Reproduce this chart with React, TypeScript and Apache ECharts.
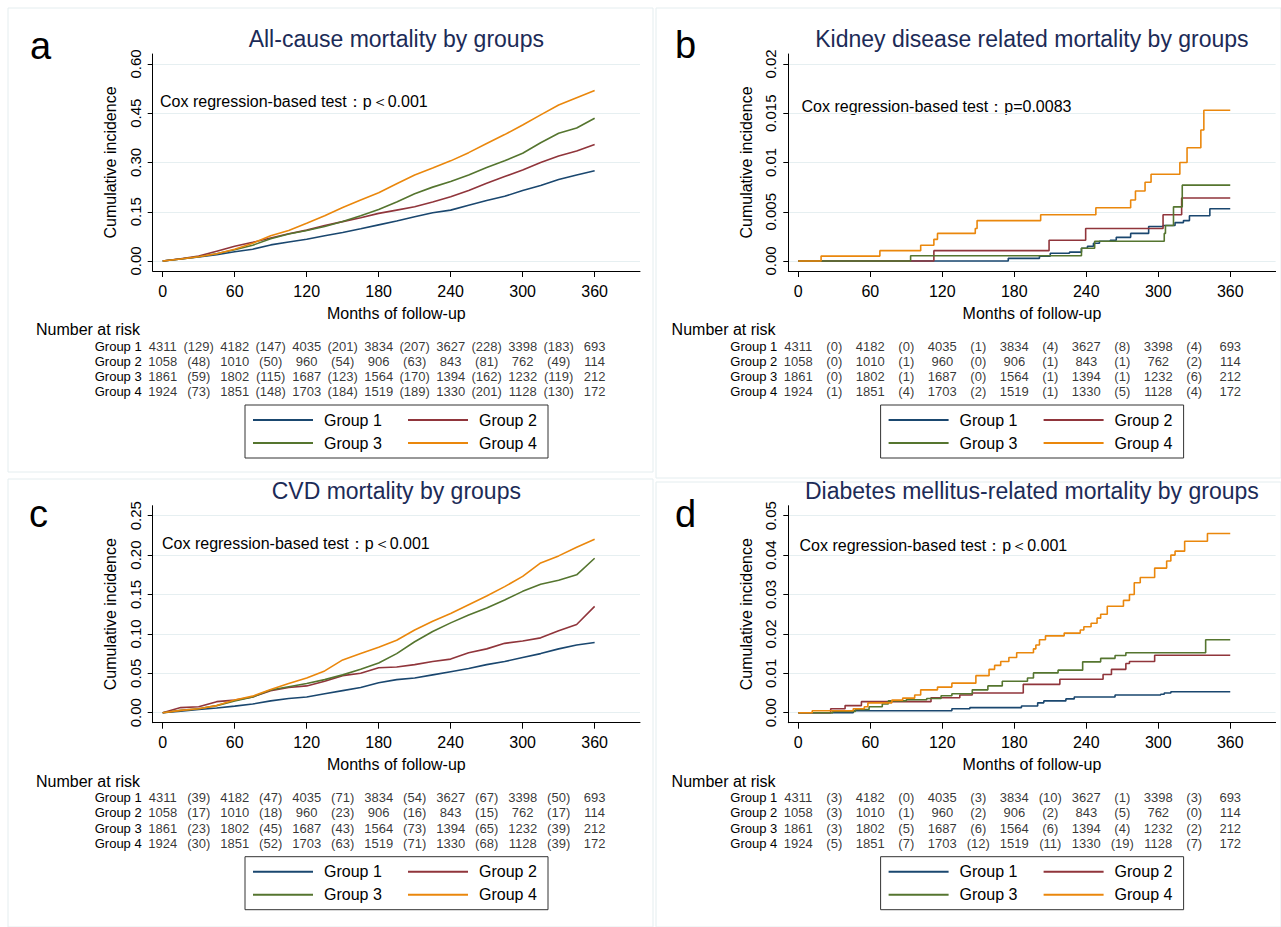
import React, { useEffect, useRef } from 'react';
import * as echarts from 'echarts';

const FONT = '"Liberation Sans", Arial, Helvetica, sans-serif';
const GROUPS = ['Group 1', 'Group 2', 'Group 3', 'Group 4'];
const COLORS = ['#1a476f', '#90353b', '#55752f', '#ea870c'];
const X_TICKS = [0, 60, 120, 180, 240, 300, 360];
const RISK_MONTHS = [0, 60, 120, 180, 240, 300, 360];
const EVENT_MONTHS = [30, 90, 150, 210, 270, 330];

const AT_RISK = [
  [4311, 4182, 4035, 3834, 3627, 3398, 693],
  [1058, 1010, 960, 906, 843, 762, 114],
  [1861, 1802, 1687, 1564, 1394, 1232, 212],
  [1924, 1851, 1703, 1519, 1330, 1128, 172],
];
const EVENTS_A = [[129, 147, 201, 207, 228, 183], [48, 50, 54, 63, 81, 49], [59, 115, 123, 170, 162, 119], [73, 148, 184, 189, 201, 130]];
const EVENTS_B = [[0, 0, 1, 4, 8, 4], [0, 1, 0, 1, 1, 2], [0, 1, 0, 1, 1, 6], [1, 4, 2, 1, 5, 4]];
const EVENTS_C = [[39, 47, 71, 54, 67, 50], [17, 18, 23, 16, 15, 17], [23, 45, 43, 73, 65, 39], [30, 52, 63, 71, 68, 39]];
const EVENTS_D = [[3, 0, 3, 10, 1, 3], [3, 1, 2, 2, 5, 0], [3, 5, 6, 6, 4, 2], [5, 7, 12, 11, 19, 7]];

// Panels a and c: sampled every 15 months
const MONTHS_AC = [0, 15, 30, 45, 60, 75, 90, 105, 120, 135, 150, 165, 180, 195, 210, 225, 240, 255, 270, 285, 300, 315, 330, 345, 360];
const A_G1 = [0, .006, .012, .019, .028, .036, .049, .058, .066, .077, .087, .098, .110, .122, .135, .147, .155, .170, .184, .197, .215, .230, .248, .262, .275];
const A_G2 = [0, .007, .015, .030, .045, .057, .070, .083, .094, .108, .120, .132, .145, .155, .165, .180, .196, .215, .237, .257, .277, .300, .320, .335, .355];
const A_G3 = [0, .006, .013, .022, .034, .048, .068, .082, .093, .105, .120, .138, .157, .180, .205, .225, .242, .262, .285, .305, .328, .360, .389, .405, .435];
const A_G4 = [0, .006, .013, .022, .036, .054, .077, .093, .115, .138, .163, .186, .208, .235, .262, .283, .305, .330, .358, .385, .414, .445, .475, .497, .519];

const C_G1 = [0, .002, .004, .006, .0084, .011, .015, .018, .020, .024, .028, .032, .038, .042, .044, .048, .052, .056, .061, .065, .070, .075, .081, .086, .089];
const C_G2 = [0, .0065, .0075, .014, .016, .020, .028, .032, .034, .040, .047, .050, .057, .058, .061, .065, .068, .076, .081, .088, .091, .095, .104, .112, .135];
const C_G3 = [0, .003, .005, .009, .0148, .020, .0287, .033, .037, .042, .048, .055, .063, .075, .090, .103, .114, .124, .133, .143, .154, .163, .168, .175, .196];
const C_G4 = [0, .003, .005, .009, .016, .021, .0295, .037, .044, .053, .067, .075, .083, .092, .105, .116, .126, .137, .148, .160, .173, .190, .199, .210, .220];

// Panels b and d: step functions [month, value]
const B_G1 = [[0, 0], [175, 0.00027], [201, 0.0005], [210, 0.00078], [226, 0.0009], [236, 0.0013], [241, 0.0015], [246, 0.0018], [251, 0.002], [260, 0.0021], [265, 0.0024], [277, 0.0028], [292, 0.0035], [304, 0.0036], [314, 0.0039], [321, 0.0041], [326, 0.0046], [343, 0.0053], [360, 0.0053]];
const B_G2 = [[0, 0], [113, 0.00105], [209, 0.0021], [239.5, 0.0033], [304, 0.0047], [319.5, 0.0064], [360, 0.0064]];
const B_G3 = [[0, 0], [93.6, 0.00054], [236, 0.0013], [247, 0.002], [305, 0.0028], [306, 0.0036], [312.7, 0.0055], [320, 0.0077], [360, 0.0077]];
const B_G4 = [[0, 0], [19, 0.0005], [68, 0.00105], [102, 0.0016], [113, 0.0022], [116, 0.0028], [147.5, 0.0033], [149, 0.0041], [202, 0.0047], [248, 0.0054], [277, 0.0062], [281, 0.0071], [289, 0.008], [294, 0.0088], [318, 0.010], [324, 0.0115], [335.5, 0.0133], [338, 0.0153], [360, 0.0153]];

const D_G1 = [[0, 0], [45.8, 0.0005], [128, 0.001], [143, 0.0013], [186, 0.0017], [199.5, 0.0025], [204.6, 0.003], [223, 0.0035], [230, 0.004], [264, 0.0045], [302, 0.0047], [305, 0.005], [310.5, 0.0053], [360, 0.0053]];
const D_G2 = [[0, 0], [27, 0.001], [39, 0.0018], [52.6, 0.0028], [110.6, 0.0038], [134.6, 0.0045], [145, 0.005], [187.5, 0.0072], [218, 0.0085], [254, 0.0097], [261, 0.011], [273, 0.0125], [276, 0.013], [297, 0.0146], [360, 0.0146]];
const D_G3 = [[0, 0], [28.7, 0.0003], [47.5, 0.0008], [59, 0.0015], [70, 0.0022], [75, 0.003], [90, 0.0033], [107, 0.0036], [119, 0.0043], [128, 0.0048], [145, 0.0058], [158, 0.0068], [170, 0.008], [191, 0.0088], [196, 0.0101], [216.5, 0.0108], [237, 0.0129], [252, 0.0138], [264, 0.0145], [273, 0.0152], [339.5, 0.0185], [360, 0.0185]];
const D_G4 = [[0, 0], [11.6, 0.0005], [45.8, 0.001], [55, 0.0015], [58, 0.0025], [78, 0.0032], [87, 0.0037], [97, 0.0045], [102, 0.0058], [116, 0.0065], [128, 0.0075], [148, 0.0094], [159, 0.011], [163.6, 0.012], [168.7, 0.013], [175.5, 0.014], [182, 0.0152], [196, 0.0162], [198, 0.0172], [201, 0.0185], [206, 0.0195], [221.6, 0.0202], [235, 0.021], [238, 0.0218], [244, 0.0227], [249, 0.024], [252, 0.025], [257.5, 0.027], [271, 0.0285], [276, 0.030], [280, 0.033], [285, 0.0343], [297, 0.0367], [307, 0.0385], [310.5, 0.040], [314, 0.041], [322, 0.0435], [341, 0.0455], [360, 0.0455]];

const Y_TICKS_A = [0, 0.15, 0.3, 0.45, 0.6];
const Y_LABELS_A = ['0.00', '0.15', '0.30', '0.45', '0.60'];
const Y_TICKS_B = [0, 0.005, 0.01, 0.015, 0.02];
const Y_LABELS_B = ['0.00', '0.005', '0.01', '0.015', '0.02'];
const Y_TICKS_C = [0, 0.05, 0.1, 0.15, 0.2, 0.25];
const Y_LABELS_C = ['0.00', '0.05', '0.10', '0.15', '0.20', '0.25'];
const Y_TICKS_D = [0, 0.01, 0.02, 0.03, 0.04, 0.05];
const Y_LABELS_D = ['0.00', '0.01', '0.02', '0.03', '0.04', '0.05'];

const zipAC = (vals: number[]) => MONTHS_AC.map((m, i) => [m, vals[i]]);

const PANELS = [
  { letter: 'a', title: 'All-cause mortality by groups', cox: 'Cox regression-based test：p＜0.001', ox: 0, oy: 0, letterXY: [30, 45.5], coxXY: [160, 101], yTicks: Y_TICKS_A, yLabels: Y_LABELS_A, step: false, curves: [zipAC(A_G1), zipAC(A_G2), zipAC(A_G3), zipAC(A_G4)], events: EVENTS_A },
  { letter: 'b', title: 'Kidney disease related mortality by groups', cox: 'Cox regression-based test：p=0.0083', ox: 635.6, oy: 0, letterXY: [675, 44.5], coxXY: [801.5, 106], yTicks: Y_TICKS_B, yLabels: Y_LABELS_B, step: true, curves: [B_G1, B_G2, B_G3, B_G4], events: EVENTS_B },
  { letter: 'c', title: 'CVD mortality by groups', cox: 'Cox regression-based test：p＜0.001', ox: 0, oy: 451.7, letterXY: [29, 513.5], coxXY: [162, 543.3], yTicks: Y_TICKS_C, yLabels: Y_LABELS_C, step: false, curves: [zipAC(C_G1), zipAC(C_G2), zipAC(C_G3), zipAC(C_G4)], events: EVENTS_C },
  { letter: 'd', title: 'Diabetes mellitus-related mortality by groups', cox: 'Cox regression-based test：p＜0.001', ox: 635.6, oy: 451.7, letterXY: [675, 513.5], coxXY: [799.5, 545], yTicks: Y_TICKS_D, yLabels: Y_LABELS_D, step: true, curves: [D_G1, D_G2, D_G3, D_G4], events: EVENTS_D },
];

const GRID_LEFT = 152.7, GRID_RIGHT = 640, GRID_TOP = 54, GRID_BOTTOM = 271;
const X_MIN = -8.33, X_MAX = 397.8;
const TABLE_TOP = 338.4, TABLE_H = 60.8;
const FRAMES = [[8, 8, 645, 464], [656, 8, 625, 470], [8, 479, 645, 448], [656, 482, 625, 445]];

function txt(text: string, x: number, y: number, size: number, color = '#000', align = 'left') {
  return {
    type: 'text', x, y, silent: true,
    style: { text, fontSize: size, fontFamily: FONT, fill: color, align, textAlign: align, verticalAlign: 'middle', textVerticalAlign: 'middle' },
  };
}

function buildOption() {
  const grid: any[] = [], xAxis: any[] = [], yAxis: any[] = [], series: any[] = [], legend: any[] = [], graphic: any[] = [];
  FRAMES.forEach(f => graphic.push({ type: 'rect', silent: true, shape: { x: f[0], y: f[1], width: f[2], height: f[3] }, style: { fill: 'none', stroke: '#e4edef', lineWidth: 1 } }));
  PANELS.forEach((p, i) => {
    const { ox, oy } = p;
    const yMax = p.yTicks[p.yTicks.length - 1];
    const pad = yMax * 10 / 197;
    grid.push({ left: GRID_LEFT + ox, top: GRID_TOP + oy, width: GRID_RIGHT - GRID_LEFT, height: GRID_BOTTOM - GRID_TOP });
    grid.push({ left: GRID_LEFT + ox, top: TABLE_TOP + oy, width: GRID_RIGHT - GRID_LEFT, height: TABLE_H });
    xAxis.push({
      type: 'value', gridIndex: 2 * i, min: X_MIN, max: X_MAX,
      axisLine: { show: true, onZero: false, lineStyle: { color: '#000', width: 1 } },
      axisTick: { show: true, customValues: X_TICKS, length: 6, lineStyle: { color: '#000' } },
      axisLabel: { customValues: X_TICKS, fontSize: 16, color: '#000', margin: 12, fontFamily: FONT },
      splitLine: { show: false },
      name: 'Months of follow-up', nameLocation: 'middle', nameGap: 34,
      nameTextStyle: { fontSize: 16, color: '#000', fontFamily: FONT },
    });
    xAxis.push({ type: 'value', gridIndex: 2 * i + 1, min: X_MIN, max: X_MAX, show: false });
    const ticks = p.yTicks, labels = p.yLabels;
    yAxis.push({
      type: 'value', gridIndex: 2 * i, min: -pad, max: yMax + pad,
      axisLine: { show: true, onZero: false, lineStyle: { color: '#000', width: 1 } },
      axisTick: { show: true, customValues: ticks, length: 5, lineStyle: { color: '#000' } },
      axisLabel: {
        customValues: ticks, rotate: 90, fontSize: 15, color: '#000', margin: 10, fontFamily: FONT,
        formatter: (v: number) => { const k = ticks.findIndex(t => Math.abs(t - v) < 1e-9); return k >= 0 ? labels[k] : ''; },
      },
      splitLine: { show: true, lineStyle: { color: '#e6eff1', width: 1.2 } },
      name: 'Cumulative incidence', nameLocation: 'middle', nameGap: 34,
      nameTextStyle: { fontSize: 16, color: '#000', fontFamily: FONT },
    });
    yAxis.push({
      type: 'category', gridIndex: 2 * i + 1, data: GROUPS, inverse: true,
      axisLine: { show: false }, axisTick: { show: false }, splitLine: { show: false },
      axisLabel: { interval: 0, fontSize: 13, color: '#000', margin: 11, fontFamily: FONT },
    });
    p.curves.forEach((c, j) => {
      series.push({
        type: 'line', name: GROUPS[j], xAxisIndex: 2 * i, yAxisIndex: 2 * i, data: c,
        step: p.step ? 'end' : false, symbol: 'none', showSymbol: false, silent: true,
        lineStyle: { color: COLORS[j], width: 1.6 }, itemStyle: { color: COLORS[j] }, z: 3,
      });
    });
    const cells: any[] = [];
    GROUPS.forEach((g, j) => {
      RISK_MONTHS.forEach((m, k) => cells.push([m, j, String(AT_RISK[j][k])]));
      EVENT_MONTHS.forEach((m, k) => cells.push([m, j, '(' + p.events[j][k] + ')']));
    });
    series.push({
      type: 'scatter', name: 'risk-' + p.letter, xAxisIndex: 2 * i + 1, yAxisIndex: 2 * i + 1,
      symbolSize: 1, itemStyle: { color: 'rgba(0,0,0,0)' }, silent: true, data: cells,
      label: { show: true, position: 'inside', formatter: (q: any) => q.data[2], fontSize: 13, color: '#000', fontFamily: FONT },
    });
    legend.push({
      left: 253 + ox, top: 411 + oy, data: GROUPS, icon: 'rect', itemWidth: 60, itemHeight: 2, itemGap: 5,
      width: 310, padding: 0, selectedMode: false,
      textStyle: { fontSize: 16, color: '#000', width: 79, lineHeight: 18, padding: [0, 0, 0, 6], fontFamily: FONT },
    });
    graphic.push({ type: 'rect', silent: true, shape: { x: 245 + ox, y: 405 + oy, width: 303, height: 53 }, style: { fill: 'none', stroke: '#333', lineWidth: 1 } });
    graphic.push(txt(p.letter, p.letterXY[0], p.letterXY[1], 38));
    graphic.push(txt(p.title, 396.3 + ox, 39 + oy, 23, '#1c2b57', 'center'));
    graphic.push(txt(p.cox, p.coxXY[0], p.coxXY[1], 16));
    graphic.push(txt('Number at risk', 36 + ox, 329.3 + oy, 16));
  });
  return {
    animation: false,
    backgroundColor: '#fff',
    textStyle: { fontFamily: FONT },
    grid, xAxis, yAxis, series, legend, graphic,
  };
}

export default function App() {
  const ref = useRef<HTMLDivElement>(null);
  useEffect(() => {
    if (!ref.current) return;
    const chart = echarts.init(ref.current, undefined, { renderer: 'svg' });
    chart.setOption(buildOption() as any);
    return () => chart.dispose();
  }, []);
  return <div ref={ref} style={{ position: 'fixed', left: 0, top: 0, width: 1281, height: 927, background: '#fff' }} />;
}
